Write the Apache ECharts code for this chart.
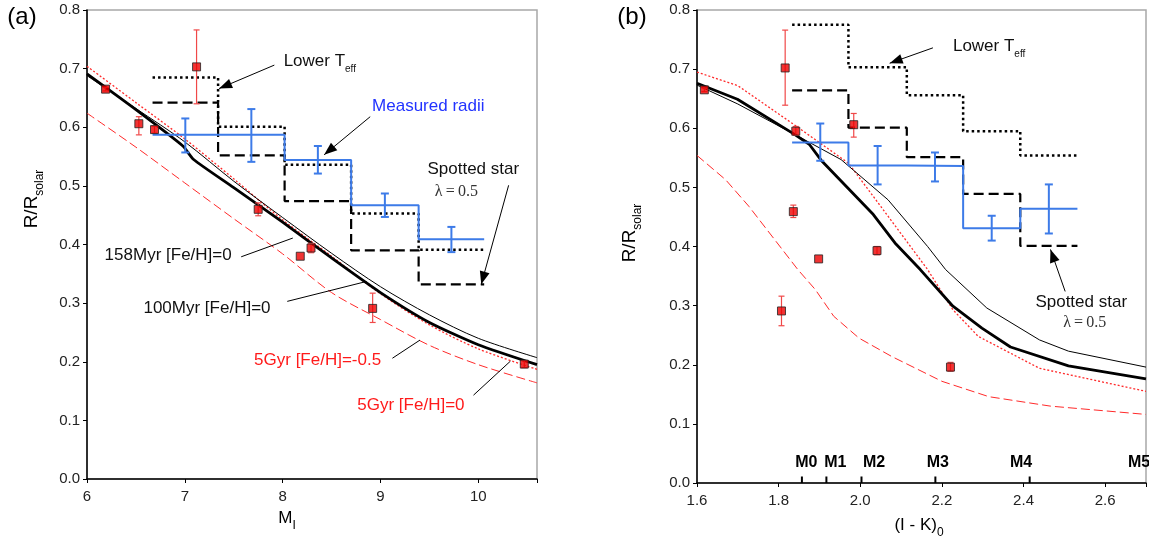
<!DOCTYPE html>
<html>
<head>
<meta charset="utf-8">
<script src="https://cdn.jsdelivr.net/npm/echarts@6/dist/echarts.min.js"></script>
<style>
html, body { margin: 0; padding: 0; background: #fff; }
#chart { width: 1149px; height: 538px; }
</style>
</head>
<body>
<div id="chart"></div>
<script>
// ---- panel (a): radius against M_I ----
var aStarX  = [6.19, 6.53, 6.69, 7.12, 7.75, 8.18, 8.29, 8.92, 10.47];
var aStarR  = [0.665, 0.606, 0.596, 0.703, 0.460, 0.380, 0.394, 0.291, 0.196];
var aStarLo = [0.662, 0.587, 0.590, 0.640, 0.449, 0.380, 0.386, 0.267, 0.190];
var aStarHi = [0.668, 0.618, 0.602, 0.766, 0.471, 0.380, 0.402, 0.317, 0.202];

var aBinEdges = [6.67, 7.34, 8.02, 8.70, 9.39, 10.06];
var aMeasR  = [0.587, 0.587, 0.544, 0.467, 0.409];
var aMeasLo = [0.557, 0.541, 0.521, 0.447, 0.387];
var aMeasHi = [0.615, 0.631, 0.568, 0.487, 0.430];
var aCoolR  = [0.685, 0.601, 0.536, 0.453, 0.391];   // lower Teff
var aSpotR  = [0.642, 0.552, 0.474, 0.390, 0.332];   // spotted star

var a100X = [6.0, 6.5, 6.98, 7.09, 7.5, 8.0, 8.5, 9.0, 9.5, 10.0, 10.6];
var a100R = [0.691, 0.630, 0.568, 0.545, 0.497, 0.438, 0.377, 0.318, 0.267, 0.229, 0.195];
var aModelX = [6.0, 6.5, 7.0, 7.5, 8.0, 8.5, 9.0, 9.5, 10.0, 10.6];
var a158R    = [0.688, 0.632, 0.575, 0.508, 0.446, 0.385, 0.328, 0.280, 0.240, 0.207];
var a5GyrR   = [0.704, 0.642, 0.580, 0.512, 0.442, 0.380, 0.316, 0.263, 0.222, 0.187];
var a5GyrMR  = [0.624, 0.566, 0.505, 0.444, 0.384, 0.318, 0.272, 0.228, 0.195, 0.164];

// ---- panel (b): radius against (I-K)0 ----
var bStarX  = [1.618, 1.816, 1.842, 1.836, 1.898, 1.984, 2.041, 1.807, 2.221];
var bStarR  = [0.665, 0.702, 0.595, 0.459, 0.379, 0.606, 0.393, 0.291, 0.196];
var bStarLo = [0.662, 0.639, 0.588, 0.449, 0.379, 0.585, 0.386, 0.266, 0.189];
var bStarHi = [0.668, 0.766, 0.603, 0.470, 0.379, 0.625, 0.400, 0.316, 0.204];

var bBinEdges = [1.833, 1.971, 2.114, 2.252, 2.392, 2.532];
var bMeasR  = [0.576, 0.537, 0.536, 0.431, 0.464];
var bMeasLo = [0.545, 0.505, 0.510, 0.410, 0.422];
var bMeasHi = [0.608, 0.570, 0.559, 0.452, 0.505];
var bCoolR  = [0.775, 0.703, 0.656, 0.595, 0.554];
var bSpotR  = [0.664, 0.601, 0.551, 0.489, 0.401];

var b100X = [1.6, 1.699, 1.838, 1.875, 1.904, 2.032, 2.085, 2.147, 2.227, 2.298, 2.368, 2.51, 2.70];
var b100R = [0.676, 0.649, 0.590, 0.573, 0.546, 0.454, 0.406, 0.361, 0.299, 0.262, 0.230, 0.198, 0.176];
var b158X = [1.6, 1.7, 1.838, 1.953, 2.068, 2.165, 2.209, 2.31, 2.439, 2.51, 2.70];
var b158R = [0.673, 0.641, 0.590, 0.547, 0.479, 0.400, 0.361, 0.296, 0.242, 0.223, 0.196];
var b5GyrX = [1.6, 1.7, 1.838, 1.971, 2.05, 2.165, 2.227, 2.289, 2.439, 2.70];
var b5GyrR = [0.695, 0.672, 0.606, 0.541, 0.468, 0.361, 0.293, 0.248, 0.194, 0.155];
var b5GyrMX = [1.6, 1.67, 1.727, 1.847, 1.89, 1.935, 1.997, 2.077, 2.2, 2.315, 2.466, 2.70];
var b5GyrMR = [0.554, 0.513, 0.468, 0.361, 0.327, 0.282, 0.245, 0.214, 0.172, 0.146, 0.130, 0.116];

// spectral types along the bottom of (b)
var spType   = ['M0', 'M1', 'M2', 'M3', 'M4', 'M5'];
var spTickX  = [1.857, 1.917, 2.003, 2.184, 2.415, null];
var spLabelX = [1.868, 1.939, 2.034, 2.190, 2.394, 2.683];

var FONT = '"Liberation Sans", Arial, sans-serif';
var RED = '#ee0000';
var BLUE = '#3d7be8';

function zip(xs, ys) {
    return xs.map(function (x, i) { return [x, ys[i]]; });
}
// histogram steps: one flat segment per bin
function steps(edges, vals) {
    var pts = [];
    vals.forEach(function (v, i) {
        pts.push([edges[i], v], [edges[i + 1], v]);
    });
    return pts;
}
function binErr(edges, lo, hi) {
    return lo.map(function (l, i) { return [(edges[i] + edges[i + 1]) / 2, l, hi[i]]; });
}
function starErr(xs, lo, hi) {
    return xs.map(function (x, i) { return [x, lo[i], hi[i]]; });
}

function errSeries(idx, data, color, width, cap, z) {
    return {
        type: 'custom', xAxisIndex: idx, yAxisIndex: idx, z: z, silent: true,
        data: data,
        renderItem: function (params, api) {
            var x = api.value(0), lo = api.value(1), hi = api.value(2);
            if (hi - lo < 0.004) return null;
            var a = api.coord([x, lo]), b = api.coord([x, hi]);
            var st = { stroke: color, lineWidth: width };
            return {
                type: 'group',
                children: [
                    { type: 'line', shape: { x1: a[0], y1: a[1], x2: b[0], y2: b[1] }, style: st },
                    { type: 'line', shape: { x1: a[0] - cap, y1: a[1], x2: a[0] + cap, y2: a[1] }, style: st },
                    { type: 'line', shape: { x1: b[0] - cap, y1: b[1], x2: b[0] + cap, y2: b[1] }, style: st }
                ]
            };
        }
    };
}
function curve(idx, data, color, width, type, smooth) {
    return {
        type: 'line', xAxisIndex: idx, yAxisIndex: idx, data: data, showSymbol: false,
        smooth: smooth, silent: true, z: 2,
        lineStyle: { color: color, width: width, type: type }
    };
}
function stepLine(idx, data, color, width, type, z) {
    return {
        type: 'line', xAxisIndex: idx, yAxisIndex: idx, data: data, showSymbol: false,
        silent: true, z: z,
        lineStyle: { color: color, width: width, type: type }
    };
}
function points(idx, data) {
    return {
        type: 'scatter', xAxisIndex: idx, yAxisIndex: idx, data: data, z: 10,
        symbol: 'rect', symbolSize: 8, silent: true,
        itemStyle: { color: RED, borderColor: '#222', borderWidth: 1 }
    };
}

function xAxis(idx, min, max, step, fmt) {
    return {
        type: 'value', gridIndex: idx, min: min, max: max, interval: step,
        splitLine: { show: false },
        axisLine: { lineStyle: { color: '#000', width: 1.5 } },
        axisTick: { length: 4, lineStyle: { color: '#000' } },
        axisLabel: { color: '#222', fontSize: 15, fontFamily: FONT, margin: 10, formatter: fmt }
    };
}
function yAxis(idx) {
    return {
        type: 'value', gridIndex: idx, min: 0, max: 0.8, interval: 0.1,
        splitLine: { show: false },
        axisLine: { show: true, lineStyle: { color: '#000', width: 1.5 } },
        axisTick: { show: true, length: 4, lineStyle: { color: '#000' } },
        axisLabel: { color: '#222', fontSize: 15, fontFamily: FONT, margin: 7,
            formatter: function (v) { return v.toFixed(1); } }
    };
}

var chart = echarts.init(document.getElementById('chart'));

var option = {
    animation: false,
    backgroundColor: '#fff',
    grid: [
        { left: 87, top: 10, width: 450, height: 469, show: true, borderColor: '#a8a8a8', borderWidth: 1.5 },
        { left: 697, top: 10, width: 450, height: 473, show: true, borderColor: '#a8a8a8', borderWidth: 1.5 }
    ],
    xAxis: [
        xAxis(0, 6, 10.6, 1, function (v) { return v > 10.5 ? '' : String(v); }),
        xAxis(1, 1.6, 2.7, 0.2, function (v) { return v > 2.65 ? '' : v.toFixed(1); })
    ],
    yAxis: [yAxis(0), yAxis(1)],
    series: [
        // (a)
        curve(0, zip(aModelX, a5GyrMR), '#ff2a2a', 1, [9, 4], 0.3),
        curve(0, zip(aModelX, a5GyrR), '#ff2a2a', 1.3, [2, 2], 0.3),
        curve(0, zip(aModelX, a158R), '#000', 1, 'solid', 0.3),
        curve(0, zip(a100X, a100R), '#000', 2.8, 'solid', 0.2),
        stepLine(0, steps(aBinEdges, aSpotR), '#000', 2.2, [10, 5], 3),
        stepLine(0, steps(aBinEdges, aCoolR), '#000', 2.5, [2.5, 3], 3),
        stepLine(0, steps(aBinEdges, aMeasR), BLUE, 2, 'solid', 4),
        errSeries(0, binErr(aBinEdges, aMeasLo, aMeasHi), BLUE, 2, 4, 5),
        errSeries(0, starErr(aStarX, aStarLo, aStarHi), '#f04848', 1.2, 3, 9),
        points(0, zip(aStarX, aStarR)),
        // (b)
        curve(1, zip(b5GyrMX, b5GyrMR), '#ff2a2a', 1, [9, 4], false),
        curve(1, zip(b5GyrX, b5GyrR), '#ff2a2a', 1.3, [2, 2], false),
        curve(1, zip(b158X, b158R), '#000', 1, 'solid', false),
        curve(1, zip(b100X, b100R), '#000', 2.8, 'solid', false),
        stepLine(1, steps(bBinEdges, bSpotR), '#000', 2.2, [10, 5], 3),
        stepLine(1, steps(bBinEdges, bCoolR), '#000', 2.5, [2.5, 3], 3),
        stepLine(1, steps(bBinEdges, bMeasR), BLUE, 2, 'solid', 4),
        errSeries(1, binErr(bBinEdges, bMeasLo, bMeasHi), BLUE, 2, 4, 5),
        errSeries(1, starErr(bStarX, bStarLo, bStarHi), '#f04848', 1.2, 3, 9),
        points(1, zip(bStarX, bStarR)),
        {
            type: 'custom', xAxisIndex: 1, yAxisIndex: 1, silent: true, z: 6,
            data: spType.map(function (t, i) { return [spLabelX[i], 0.035, i]; }),
            renderItem: function (params, api) {
                var i = api.value(2);
                var kids = [];
                if (spTickX[i] != null) {
                    var a = api.coord([spTickX[i], 0]), b = api.coord([spTickX[i], 0.011]);
                    kids.push({ type: 'line', shape: { x1: a[0], y1: a[1], x2: b[0], y2: b[1] },
                        style: { stroke: '#000', lineWidth: 2 } });
                }
                var p = api.coord([api.value(0), api.value(1)]);
                kids.push({ type: 'text', x: p[0], y: p[1],
                    style: { text: spType[i], fill: '#000', font: 'bold 16px ' + FONT,
                        align: 'center', verticalAlign: 'middle' } });
                return { type: 'group', children: kids };
            }
        }
    ]
};
chart.setOption(option);

// ---- annotations, placed in data coordinates ----
function pix(g, x, y) { return chart.convertToPixel({ gridIndex: g }, [x, y]); }
var SUB = { fontSize: 10, fontFamily: FONT, padding: [15, 0, 0, 0] };

function note(g, x, y, text, color, extra) {
    var p = pix(g, x, y);
    var st = { text: text, fill: color || '#111', font: '17px ' + FONT,
        align: 'left', verticalAlign: 'middle', rich: { s: SUB } };
    if (extra) for (var k in extra) st[k] = extra[k];
    return { type: 'text', x: p[0], y: p[1], z: 20, style: st };
}
function lead(g, x1, y1, x2, y2, head) {
    var a = pix(g, x1, y1), b = pix(g, x2, y2);
    var els = [{ type: 'line', z: 20, shape: { x1: a[0], y1: a[1], x2: b[0], y2: b[1] },
        style: { stroke: '#000', lineWidth: 1 } }];
    if (head) {
        var dx = b[0] - a[0], dy = b[1] - a[1], L = Math.sqrt(dx * dx + dy * dy);
        var ux = dx / L, uy = dy / L, hl = 13, hw = 5;
        var bx = b[0] - ux * hl, by = b[1] - uy * hl;
        els.push({ type: 'polygon', z: 21,
            shape: { points: [[b[0], b[1]], [bx - uy * hw, by + ux * hw], [bx + uy * hw, by - ux * hw]] },
            style: { fill: '#000' } });
    }
    return els;
}

var g = [];
// (a)
g.push(note(0, 8.01, 0.712, 'Lower T{s|eff}'));
g = g.concat(lead(0, 7.915, 0.706, 7.35, 0.666, true));
g.push(note(0, 8.914, 0.636, 'Measured radii', '#2233ff'));
g = g.concat(lead(0, 8.895, 0.618, 8.424, 0.553, true));
g.push(note(0, 9.48, 0.528, 'Spotted star'));
g.push(note(0, 9.555, 0.490, 'λ\u2009=\u20090.5', '#333', { font: '16px "Liberation Serif", "DejaVu Serif", serif' }));
g = g.concat(lead(0, 10.31, 0.501, 10.03, 0.332, true));
g.push(note(0, 6.18, 0.382, '158Myr [Fe/H]=0'));
g = g.concat(lead(0, 7.576, 0.379, 8.104, 0.411, false));
g.push(note(0, 6.577, 0.291, '100Myr [Fe/H]=0'));
g = g.concat(lead(0, 8.047, 0.303, 8.858, 0.337, false));
g.push(note(0, 7.708, 0.203, '5Gyr [Fe/H]=-0.5', '#ff1a1a'));
g = g.concat(lead(0, 9.122, 0.206, 9.404, 0.237, false));
g.push(note(0, 8.763, 0.126, '5Gyr [Fe/H]=0', '#ff1a1a'));
g = g.concat(lead(0, 9.951, 0.143, 10.328, 0.201, false));
// (b)
g.push(note(1, 2.227, 0.738, 'Lower T{s|eff}'));
g = g.concat(lead(1, 2.178, 0.736, 2.072, 0.710, true));
g.push(note(1, 2.429, 0.305, 'Spotted star'));
g.push(note(1, 2.497, 0.271, 'λ\u2009=\u20090.5', '#333', { font: '16px "Liberation Serif", "DejaVu Serif", serif' }));
g = g.concat(lead(1, 2.502, 0.324, 2.466, 0.395, true));

// panel letters and axis titles
function plain(x, y, text, size, extra) {
    var st = { text: text, fill: '#000', font: size + 'px ' + FONT, align: 'center', verticalAlign: 'middle',
        rich: { s: { fontSize: 12, fontFamily: FONT, padding: [16, 0, 0, 0] } } };
    var el = { type: 'text', x: x, y: y, z: 20, style: st };
    if (extra) for (var k in extra) el[k] = extra[k];
    return el;
}
g.push(plain(22, 17, '(a)', 24));
g.push(plain(632, 17, '(b)', 24));
g.push(plain(32, 199, 'R/R{s|solar}', 19, { rotation: Math.PI / 2 }));
g.push(plain(630, 233, 'R/R{s|solar}', 19, { rotation: Math.PI / 2 }));
g.push(plain(287, 518, 'M{s|I}', 17));
g.push(plain(919, 525, '(I - K){s|0}', 17));

chart.setOption({ graphic: { elements: g } });
</script>
</body>
</html>
